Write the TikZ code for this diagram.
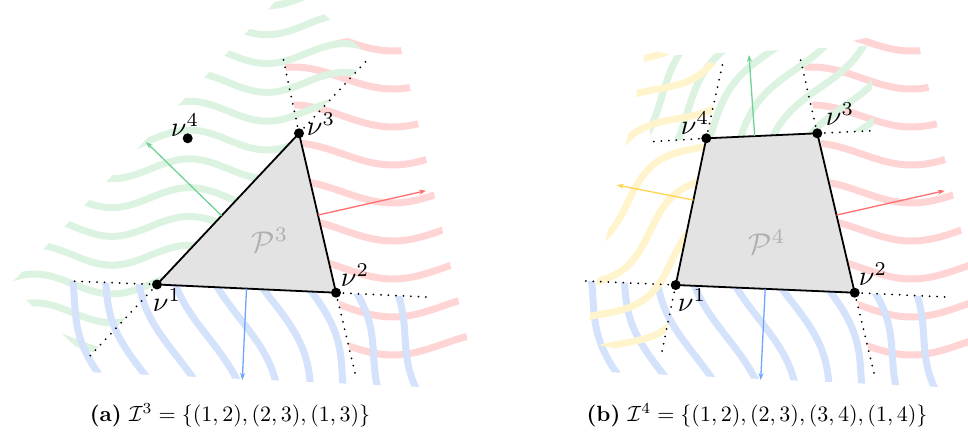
\documentclass[tikz,border=0pt]{standalone}
\usetikzlibrary{arrows.meta,calc}
\definecolor{wgreen}{RGB}{220,243,225}
\definecolor{wred}{RGB}{255,212,212}
\definecolor{wblue}{RGB}{212,226,252}
\definecolor{wyellow}{RGB}{255,244,204}
\definecolor{agreen}{RGB}{110,210,150}
\definecolor{ared}{RGB}{255,110,110}
\definecolor{ablue}{RGB}{110,165,255}
\definecolor{ayellow}{RGB}{255,212,80}
\definecolor{pfill}{RGB}{227,227,227}
\definecolor{plabel}{RGB}{175,175,175}
\newcommand\redwaves{%
  \begin{scope}
  \clip (282,53) -- (355,373) -- (469,346.6) -- (396,26.6) -- cycle;
  \foreach \i in {-1,...,10}
    \draw[wavestroke,wred] plot[domain=260:480,samples=50,variable=\t]
      (\t,{40+38*\i+11*cos(1.8*(\t-393))});
  \end{scope}}
\newcommand\bluewaves{%
  \begin{scope}
  \clip (68,281) -- (426,297) -- (422,387) -- (64,371) -- cycle;
  \foreach \i in {-1,...,10}
    \draw[wavestroke,wblue] plot[domain=270:395,samples=50,variable=\t]
      ({67.3+39.4*\i+0.42*(\t-283)+10.8*sin(1.895*(\t-283)+148+36.3*\i)},\t);
  \end{scope}}
\begin{document}
\begin{tikzpicture}[x=1pt,y=-1pt,
  wavestroke/.style={line width=7pt},
  dotline/.style={line width=2pt,dash pattern=on 0pt off 7.5pt,line cap=round},
  polyedge/.style={line width=1.8pt,line join=round},
  vdot/.style={circle,fill=black,inner sep=0pt,minimum size=10pt},
  vlabel/.style={inner sep=0pt,scale=2.8},
  plabelnode/.style={inner sep=0pt,text=plabel,scale=3.0},
  captext/.style={inner sep=0pt,scale=2.2},
  normalarrow/.style={line width=1.3pt,-{Stealth[length=7pt,width=5pt]}}]
\useasboundingbox (0,0) rectangle (968,436);

% ---------------- panel (a) ----------------
\coordinate (a1) at (157,284.5);
\coordinate (a2) at (336,292.7);
\coordinate (a3) at (299,133.3);
\coordinate (a4) at (187.7,138.3);

\redwaves
\begin{scope}
  \clip (88,358) -- (370,57) -- (291.9,-16.1) -- (9.9,284.9) -- cycle;
  \foreach \i in {-1,...,14}
    \draw[wavestroke,wgreen] plot[domain=0:380,samples=70,variable=\t]
      (\t,{-4+28.8*\i+10*cos(2.3226*(\t-112))});
\end{scope}
\bluewaves

\coordinate (a1l) at (68,281);
\coordinate (a1d) at (88,358);
\coordinate (a2r) at (426,297);
\coordinate (a2d) at (355,373);
\coordinate (a3u) at (282,53);
\coordinate (a3r) at (370,57);
\draw[dotline] (a1) -- (a1l) (a1) -- (a1d) (a2) -- (a2r) (a2) -- (a2d)
  (a3) -- (a3u) (a3) -- (a3r);

\filldraw[polyedge,fill=pfill] (a1) -- (a2) -- (a3) -- cycle;

\coordinate (a13) at ($(a1)!0.455!(a3)$);
\coordinate (a23) at ($(a2)!0.487!(a3)$);
\coordinate (a12) at ($(a1)!0.5!(a2)$);
\coordinate (ga) at (146,142);
\coordinate (ra) at (426,190.7);
\coordinate (ba) at (242.3,380);
\draw[normalarrow,agreen] (a13) -- (ga);
\draw[normalarrow,ared] (a23) -- (ra);
\draw[normalarrow,ablue] (a12) -- (ba);

\node[vdot] (d1) at (a1) {};
\node[vdot] (d2) at (a2) {};
\node[vdot] (d3) at (a3) {};
\node[vdot] (d4) at (a4) {};
\node[vlabel] (l1) at (167,300) {$\nu^1$};
\node[vlabel] (l2) at (355,275) {$\nu^2$};
\node[vlabel] (l3) at (321,124) {$\nu^3$};
\node[vlabel] (l4) at (185,125) {$\nu^4$};
\node[plabelnode] (pa) at (270,240) {$\mathcal{P}^3$};
\node[captext] (ca) at (230,415) {\textbf{(a)} $\mathcal{I}^3=\{(1,2),(2,3),(1,3)\}$};

% ---------------- panel (b) ----------------
\coordinate (b1) at (675.7,285);
\coordinate (b2) at (854.7,292.7);
\coordinate (b3) at (817.3,133.3);
\coordinate (b4) at (706.3,138.3);

\begin{scope}[shift={(518.7,0)}]
  \redwaves
\end{scope}
\begin{scope}
  \clip (650.7,141.7) -- (874,130.7) -- (870.2,45.7) -- (646.9,56.7) -- cycle;
  \foreach \i in {-2,...,7}
    \draw[wavestroke,wgreen] plot[domain=250:490,samples=50,variable=\t]
      ({0.588*\t+0.809*(592+30.7*\i+11*sin(1.8*(\t-211.2)))},
       {-0.809*\t+0.588*(592+30.7*\i+11*sin(1.8*(\t-211.2)))});
\end{scope}
\begin{scope}[shift={(518.7,0)}]
  \bluewaves
\end{scope}
\begin{scope}
  \clip (660.7,358) -- (722.3,65) -- (645.9,49.1) -- (584.3,342.1) -- cycle;
  \foreach \i in {-2,...,7}
    \draw[wavestroke,wyellow] plot[domain=240:560,samples=60,variable=\t]
      ({0.799*\t+0.602*(466+36.5*\i+14.6*sin(2*(\t-290)))},
       {-0.602*\t+0.799*(466+36.5*\i+14.6*sin(2*(\t-290)))});
\end{scope}

\coordinate (b1l) at (585.7,281);
\coordinate (b1d) at (660.7,358);
\coordinate (b2r) at (945.7,297);
\coordinate (b2d) at (874,373);
\coordinate (b3r) at (874,130.7);
\coordinate (b3u) at (799,53);
\coordinate (b4l) at (650.7,141.7);
\coordinate (b4u) at (722.3,65);
\draw[dotline] (b1) -- (b1l) (b1) -- (b1d) (b2) -- (b2r) (b2) -- (b2d)
  (b3) -- (b3r) (b3) -- (b3u) (b4) -- (b4l) (b4) -- (b4u);

\filldraw[polyedge,fill=pfill] (b1) -- (b2) -- (b3) -- (b4) -- cycle;

\coordinate (b43) at ($(b4)!0.436!(b3)$);
\coordinate (b14) at ($(b1)!0.579!(b4)$);
\coordinate (b23) at ($(b2)!0.487!(b3)$);
\coordinate (b12) at ($(b1)!0.5!(b2)$);
\coordinate (gb) at (749,55);
\coordinate (yb) at (616.7,185);
\coordinate (rb) at (944.7,190.7);
\coordinate (bb) at (760.7,380);
\draw[normalarrow,agreen] (b43) -- (gb);
\draw[normalarrow,ayellow] (b14) -- (yb);
\draw[normalarrow,ared] (b23) -- (rb);
\draw[normalarrow,ablue] (b12) -- (bb);

\node[vdot] (e1) at (b1) {};
\node[vdot] (e2) at (b2) {};
\node[vdot] (e3) at (b3) {};
\node[vdot] (e4) at (b4) {};
\node[vlabel] (m1) at (692,300) {$\nu^1$};
\node[vlabel] (m2) at (873,274) {$\nu^2$};
\node[vlabel] (m3) at (840,114) {$\nu^3$};
\node[vlabel] (m4) at (695,123) {$\nu^4$};
\node[plabelnode] (pb) at (767,242) {$\mathcal{P}^4$};
\node[captext] (cb) at (757,415) {\textbf{(b)} $\mathcal{I}^4=\{(1,2),(2,3),(3,4),(1,4)\}$};
\end{tikzpicture}
\end{document}
